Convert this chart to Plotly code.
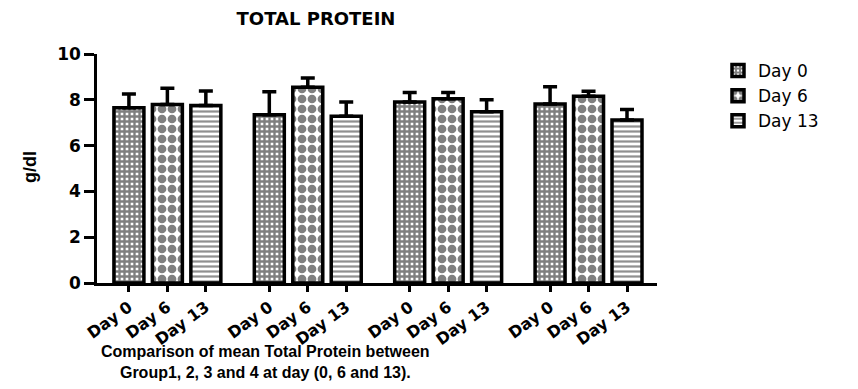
import plotly.graph_objects as go

# Total protein (g/dl), mean and upper SD, for each group at each sampling day
groups = ["Group1", "Group2", "Group3", "Group4"]
days = ["Day 0", "Day 6", "Day 13"]
day0_mean = [7.65, 7.35, 7.90, 7.82]
day6_mean = [7.80, 8.55, 8.05, 8.15]
day13_mean = [7.75, 7.28, 7.48, 7.12]
day0_sd = [0.60, 1.00, 0.42, 0.75]
day6_sd = [0.70, 0.40, 0.27, 0.22]
day13_sd = [0.63, 0.62, 0.52, 0.46]
y_ticks = [0, 2, 4, 6, 8, 10]

means = [day0_mean, day6_mean, day13_mean]
sds = [day0_sd, day6_sd, day13_sd]

# bar slots: three days per group, with a wider gap between groups
GROUP_PERIOD = 3.65
patterns = [
    dict(shape="+", size=5, solidity=0.72, fgcolor="black", bgcolor="white", fillmode="overlay"),
    dict(shape=".", size=10, solidity=0.6, fgcolor="black", bgcolor="white", fillmode="overlay"),
    dict(shape="-", size=5, solidity=0.45, fgcolor="#222222", bgcolor="white", fillmode="overlay"),
]

ARIAL = "Arial, Liberation Sans, sans-serif"
WIDE = "DejaVu Sans, sans-serif"
fig = go.Figure()
tick_pos, tick_text = [], []
for d, day in enumerate(days):
    xs = [g * GROUP_PERIOD + d for g in range(len(groups))]
    tick_pos += xs
    tick_text += [day] * len(xs)
    fig.add_trace(go.Bar(
        x=xs, y=means[d], name=day, width=0.78,
        marker=dict(color="white", line=dict(color="black", width=3.5), pattern=patterns[d]),
        error_y=dict(type="data", symmetric=False, array=sds[d],
                     arrayminus=[0] * len(groups), color="black", thickness=3.5, width=7),
    ))

x_last = (len(groups) - 1) * GROUP_PERIOD + len(days) - 1
fig.update_layout(
    width=858, height=389,
    margin=dict(l=97, r=201, t=54, b=106),
    plot_bgcolor="white", paper_bgcolor="white",
    font=dict(family=ARIAL, color="black"),
    barmode="overlay", showlegend=True,
    title=dict(text="<b>TOTAL PROTEIN</b>", x=316 / 858, xanchor="center",
               y=1 - 19 / 389, yanchor="middle", yref="container",
               font=dict(size=18, family=WIDE, color="black")),
    xaxis=dict(range=[-0.83, x_last + 0.78], tickvals=tick_pos, ticktext=tick_text,
               tickangle=-36, ticks="outside", ticklen=6, tickwidth=2.5, tickcolor="black",
               showline=True, linecolor="black", linewidth=2.5, showgrid=False, zeroline=False,
               tickfont=dict(size=16, family=WIDE, color="black", weight="bold")),
    yaxis=dict(range=[0, 10], tickvals=y_ticks, ticks="outside", ticklen=10, tickwidth=2.5,
               tickcolor="black", showline=True, linecolor="black", linewidth=2.5,
               showgrid=False, zeroline=False,
               tickfont=dict(size=17, family=WIDE, color="black", weight="bold")),
    legend=dict(x=(718 - 97) / 560, y=(283 - 53) / 229, xanchor="left", yanchor="top",
                font=dict(size=17, family=WIDE, color="black"), tracegroupgap=0,
                itemwidth=30, bgcolor="rgba(0,0,0,0)"),
)
fig.add_annotation(text="<b>g/dl</b>", textangle=-90, xref="paper", yref="paper",
                   x=(30 - 97) / 560, y=(283 - 167) / 229, xanchor="center", yanchor="middle",
                   showarrow=False, font=dict(size=18, family=ARIAL, color="black"))
fig.add_annotation(text="<b>Comparison of mean Total Protein between<br>Group1, 2, 3 and 4 at day (0, 6 and 13).</b>",
                   xref="paper", yref="paper", x=(265 - 97) / 560, y=(283 - 362) / 229,
                   xanchor="center", yanchor="middle", showarrow=False,
                   font=dict(size=16, family=ARIAL, color="black"))

fig.write_html("out.html")
